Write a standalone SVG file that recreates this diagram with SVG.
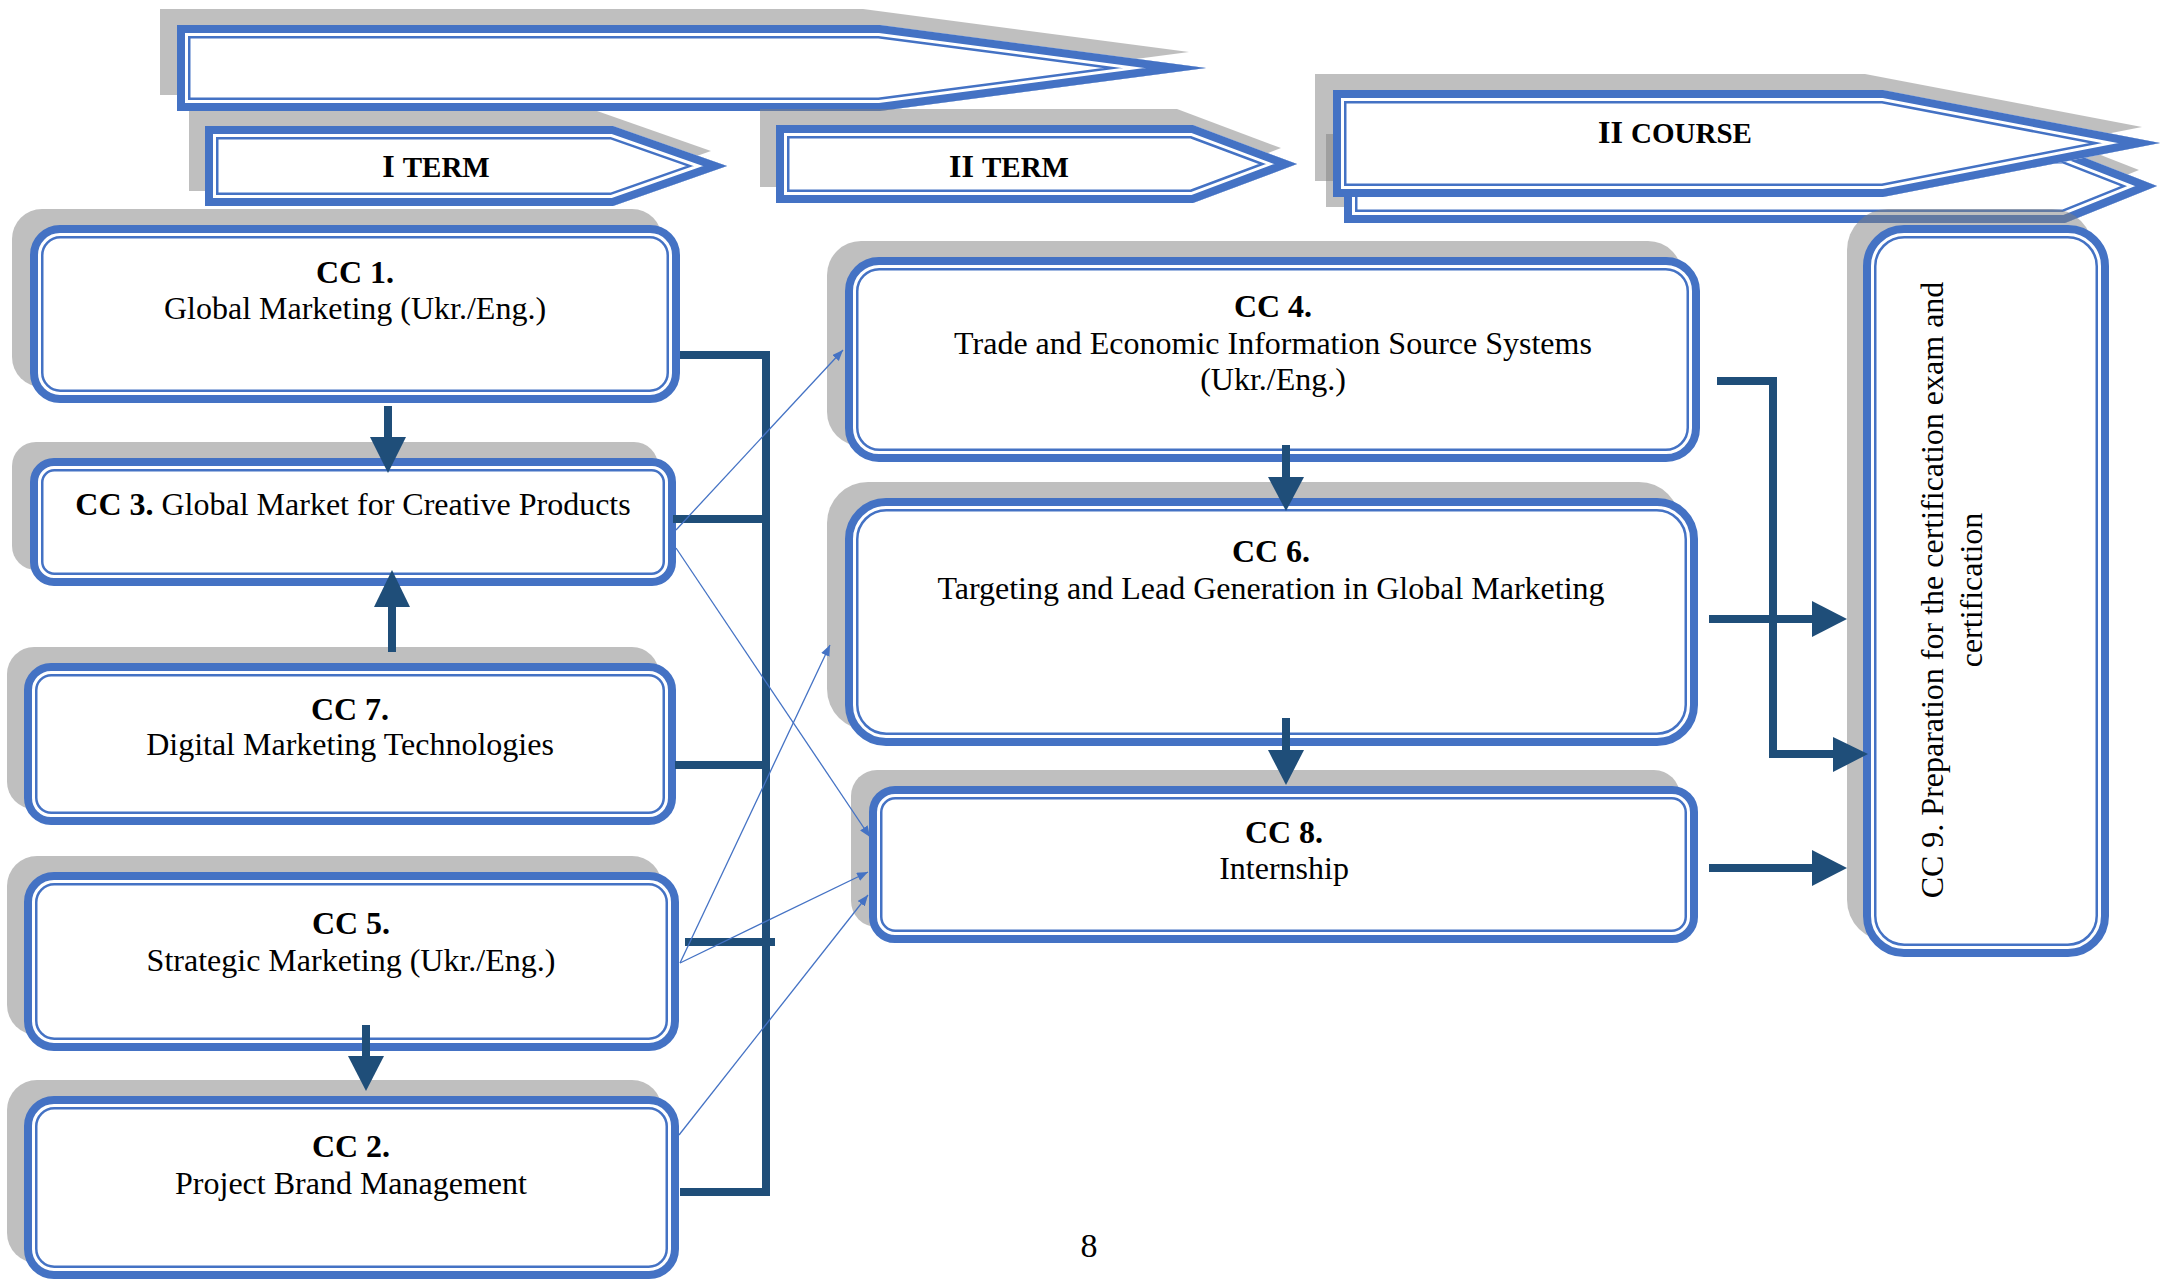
<svg xmlns="http://www.w3.org/2000/svg" width="2163" height="1280" viewBox="0 0 2163 1280">
<style>
text{font-family:"Liberation Serif","Times New Roman",serif;font-size:32px;fill:#000;text-anchor:middle}
.b{font-weight:bold}
.sh{fill:#7f7f7f;fill-opacity:0.5}
.o{fill:#fff;stroke:#4472C4;stroke-width:8}
.i{fill:none;stroke:#4472C4;stroke-width:2.5}
.ab{stroke:#4472C4;stroke-width:27;fill:#fff;stroke-linejoin:miter;stroke-miterlimit:14}
.aw{stroke:#fff;stroke-width:22;fill:none;stroke-linejoin:miter;stroke-miterlimit:14}
.ao{stroke:#4472C4;stroke-width:16;fill:none;stroke-linejoin:miter;stroke-miterlimit:14}
.k{stroke:#1F4E79;fill:none;stroke-width:8}
.kf{fill:#1F4E79}
.t{stroke:#4472C4;stroke-width:1.3;fill:none;marker-end:url(#m)}
.sc{font-size:29px}
</style>
<defs>
<polygon id="pA0" points="177,25 880,25 1206,68 880,111 177,111"/>
<polygon id="pA1" points="205,126 613,126 727,166 613,206 205,206"/>
<polygon id="pA2" points="776,125 1193,125 1297,164 1193,203 776,203"/>
<polygon id="pA4" points="1344,150 2065,150 2157,186 2065,223 1344,223"/>
<polygon id="pA3" points="1333,90 1883,90 2160,143 1883,197 1333,197"/>
<clipPath id="cA0"><use href="#pA0"/></clipPath>
<clipPath id="cA1"><use href="#pA1"/></clipPath>
<clipPath id="cA2"><use href="#pA2"/></clipPath>
<clipPath id="cA3"><use href="#pA3"/></clipPath>
<clipPath id="cA4"><use href="#pA4"/></clipPath>
<marker id="m" markerUnits="userSpaceOnUse" markerWidth="12" markerHeight="10" refX="11" refY="4.5" orient="auto"><path d="M0 0L11 4.5L0 9z" fill="#4472C4"/></marker>
</defs>
<rect width="2163" height="1280" fill="#fff"/>

<g id="year-arrow">
<use href="#pA0" class="sh" transform="translate(-17,-16)"/>
<use href="#pA0" class="ab" clip-path="url(#cA0)"/>
<use href="#pA0" class="aw" clip-path="url(#cA0)"/>
<use href="#pA0" class="ao" clip-path="url(#cA0)"/>
</g>

<g id="term1">
<use href="#pA1" class="sh" transform="translate(-16,-15)"/>
<use href="#pA1" class="ab" clip-path="url(#cA1)"/>
<use href="#pA1" class="aw" clip-path="url(#cA1)"/>
<use href="#pA1" class="ao" clip-path="url(#cA1)"/>
<text x="436" y="177" class="b">I <tspan class="sc">TERM</tspan></text>
</g>

<g id="term2">
<use href="#pA2" class="sh" transform="translate(-16,-16)"/>
<use href="#pA2" class="ab" clip-path="url(#cA2)"/>
<use href="#pA2" class="aw" clip-path="url(#cA2)"/>
<use href="#pA2" class="ao" clip-path="url(#cA2)"/>
<text x="1009" y="177" class="b">II <tspan class="sc">TERM</tspan></text>
</g>

<g id="course2-back">
<use href="#pA4" class="sh" transform="translate(-18,-16)"/>
<use href="#pA4" class="ab" clip-path="url(#cA4)"/>
<use href="#pA4" class="aw" clip-path="url(#cA4)"/>
<use href="#pA4" class="ao" clip-path="url(#cA4)"/>
</g>

<g id="course2">
<use href="#pA3" class="sh" transform="translate(-18,-16)"/>
<use href="#pA3" class="ab" clip-path="url(#cA3)"/>
<use href="#pA3" class="aw" clip-path="url(#cA3)"/>
<use href="#pA3" class="ao" clip-path="url(#cA3)"/>
<text x="1675" y="143" class="b">II <tspan class="sc">COURSE</tspan></text>
</g>

<g id="cc1">
<rect class="sh" x="12" y="209" width="650" height="178" rx="30"/>
<rect class="o" x="34" y="229" width="642" height="170" rx="26"/>
<rect class="i" x="42.25" y="237.25" width="625.5" height="153.5" rx="18"/>
<text x="355" y="283" class="b">CC 1.</text>
<text x="355" y="319">Global Marketing (Ukr./Eng.)</text>
</g>

<g id="cc3">
<rect class="sh" x="12" y="442" width="646" height="128" rx="24"/>
<rect class="o" x="34" y="462" width="638" height="120" rx="20"/>
<rect class="i" x="42.25" y="470.25" width="621.5" height="103.5" rx="12"/>
<text x="353" y="515"><tspan class="b">CC 3.</tspan> Global Market for Creative Products</text>
</g>

<g id="cc7">
<rect class="sh" x="7" y="647" width="652" height="162" rx="27"/>
<rect class="o" x="28" y="667" width="644" height="154" rx="23"/>
<rect class="i" x="36.25" y="675.25" width="627.5" height="137.5" rx="15"/>
<text x="350" y="720" class="b">CC 7.</text>
<text x="350" y="755">Digital Marketing Technologies</text>
</g>

<g id="cc5">
<rect class="sh" x="7" y="856" width="655" height="179" rx="30"/>
<rect class="o" x="28" y="876" width="647" height="171" rx="26"/>
<rect class="i" x="36.25" y="884.25" width="630.5" height="154.5" rx="18"/>
<text x="351" y="934" class="b">CC 5.</text>
<text x="351" y="971">Strategic Marketing (Ukr./Eng.)</text>
</g>

<g id="cc2">
<rect class="sh" x="7" y="1080" width="655" height="183" rx="30"/>
<rect class="o" x="28" y="1100" width="647" height="175" rx="26"/>
<rect class="i" x="36.25" y="1108.25" width="630.5" height="158.5" rx="18"/>
<text x="351" y="1157" class="b">CC 2.</text>
<text x="351" y="1194">Project Brand Management</text>
</g>

<g id="cc4">
<rect class="sh" x="827" y="241" width="855" height="205" rx="34"/>
<rect class="o" x="849" y="261" width="847" height="197" rx="30"/>
<rect class="i" x="857.25" y="269.25" width="830.5" height="180.5" rx="22"/>
<text x="1273" y="317" class="b">CC 4.</text>
<text x="1273" y="354">Trade and Economic Information Source Systems</text>
<text x="1273" y="390">(Ukr./Eng.)</text>
</g>

<g id="cc6">
<rect class="sh" x="827" y="482" width="853" height="248" rx="41"/>
<rect class="o" x="849" y="502" width="845" height="240" rx="37"/>
<rect class="i" x="857.25" y="510.25" width="828.5" height="223.5" rx="29"/>
<text x="1271" y="562" class="b">CC 6.</text>
<text x="1271" y="599">Targeting and Lead Generation in Global Marketing</text>
</g>

<g id="cc8">
<rect class="sh" x="851" y="770" width="829" height="157" rx="26"/>
<rect class="o" x="873" y="790" width="821" height="149" rx="22"/>
<rect class="i" x="881.25" y="798.25" width="804.5" height="132.5" rx="14"/>
<text x="1284" y="843" class="b">CC 8.</text>
<text x="1284" y="879">Internship</text>
</g>

<g id="cc9">
<rect class="sh" x="1847" y="209" width="246" height="732" rx="41"/>
<rect class="o" x="1867" y="229" width="238" height="724" rx="37"/>
<rect class="i" x="1875.25" y="237.25" width="221.5" height="707.5" rx="29"/>
<text transform="translate(1943,590) rotate(-90)"><tspan x="0" y="0">CC 9. Preparation for the certification exam and</tspan><tspan x="0" y="39">certification</tspan></text>
</g>

<g id="connectors">
<path class="k" d="M680 355H766V1192H680"/>
<path class="k" d="M673 519H766M675 765H766M685 942H775"/>
<path class="k" d="M1717 381H1773V754"/>
<path class="k" stroke-width="10" d="M1769 754H1836"/>
<polygon class="kf" points="1833,737 1868,754 1833,772"/>
<path class="k" stroke-width="11" d="M1709 619H1814"/>
<polygon class="kf" points="1812,601 1847,619 1812,637"/>
<path class="k" stroke-width="11" d="M1709 868H1814"/>
<polygon class="kf" points="1812,850 1847,868 1812,886"/>
<path class="k" stroke-width="11" d="M388 406V439"/>
<polygon class="kf" points="370,437 406,437 388,473"/>
<path class="k" stroke-width="11" d="M392 652V604"/>
<polygon class="kf" points="374,607 410,607 392,570"/>
<path class="k" stroke-width="11" d="M366 1025V1058"/>
<polygon class="kf" points="348,1056 384,1056 366,1091"/>
<path class="k" stroke-width="11" d="M1286 445V479"/>
<polygon class="kf" points="1268,477 1304,477 1286,511"/>
<path class="k" stroke-width="11" d="M1286 718V752"/>
<polygon class="kf" points="1268,750 1304,750 1286,785"/>
<path class="t" d="M676 530L843 350"/>
<path class="t" d="M676 548L870 837"/>
<path class="t" d="M680 963L830 645"/>
<path class="t" d="M680 963L868 872"/>
<path class="t" d="M679 1135L868 895"/>
</g>

<text x="1089" y="1257" style="font-size:34px">8</text>
</svg>
